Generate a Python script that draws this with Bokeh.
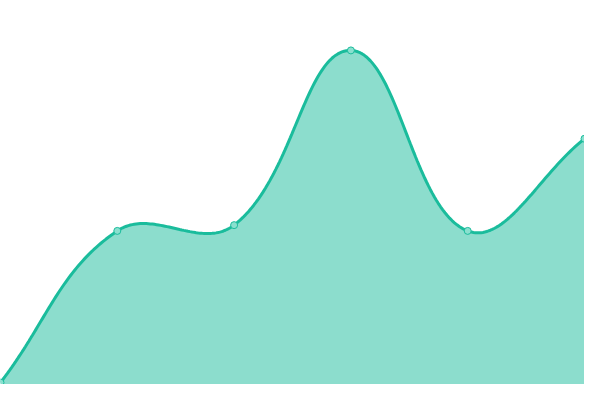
import numpy as np
from bokeh.plotting import figure
from bokeh.models import Range1d, ColumnDataSource
from bokeh.embed import file_html
from bokeh.resources import INLINE

# data
x_vals = [0, 1, 2, 3, 4, 5]
y_vals = [0.5, 40.0, 41.5, 87.0, 40.0, 64.0]

LINE = "#1abc9c"
FILL = "#1abc9c"

# smooth curve (Chart.js-like spline, tension 0.4) computed from the data
SX, SY = 120.0, 4.0  # aspect used for distances
TENSION = 0.4
px = np.array(x_vals, float) * SX
py = np.array(y_vals, float) * SY
n = len(px)
cps = []
for i in range(n):
    prv = i - 1 if i > 0 else i
    nxt = i + 1 if i < n - 1 else i
    d01 = np.hypot(px[i] - px[prv], py[i] - py[prv])
    d12 = np.hypot(px[nxt] - px[i], py[nxt] - py[i])
    s = d01 + d12
    fa = TENSION * d01 / s if s else 0
    fb = TENSION * d12 / s if s else 0
    dx, dy = px[nxt] - px[prv], py[nxt] - py[prv]
    cps.append(((px[i] - fa * dx, py[i] - fa * dy), (px[i] + fb * dx, py[i] + fb * dy)))

cx, cy = [], []
t = np.linspace(0, 1, 60)
for i in range(n - 1):
    p0 = np.array([px[i], py[i]])
    p1 = np.array(cps[i][1])
    p2 = np.array(cps[i + 1][0])
    p3 = np.array([px[i + 1], py[i + 1]])
    for tt in (t if i == 0 else t[1:]):
        b = ((1 - tt) ** 3) * p0 + 3 * ((1 - tt) ** 2) * tt * p1 + 3 * (1 - tt) * tt ** 2 * p2 + tt ** 3 * p3
        cx.append(b[0] / SX)
        cy.append(b[1] / SY)

p = figure(width=584, height=384, output_backend="svg", toolbar_location=None,
           x_range=Range1d(0, 5), y_range=Range1d(0, 100),
           min_border=0, min_border_left=0, min_border_right=0,
           min_border_top=0, min_border_bottom=0)
p.axis.visible = False
p.grid.visible = False
p.outline_line_color = None
p.background_fill_color = "white"
p.border_fill_color = "white"

p.varea(x=cx, y1=[0] * len(cx), y2=cy, fill_color=FILL, fill_alpha=0.5)
p.line(x=cx, y=cy, line_color=LINE, line_width=3)
src = ColumnDataSource(dict(x=x_vals, y=y_vals))
p.scatter(x="x", y="y", source=src, size=7, fill_color="#8ae0cf", line_color=LINE, line_width=1)

open("out.html", "w").write(file_html(p, INLINE))
